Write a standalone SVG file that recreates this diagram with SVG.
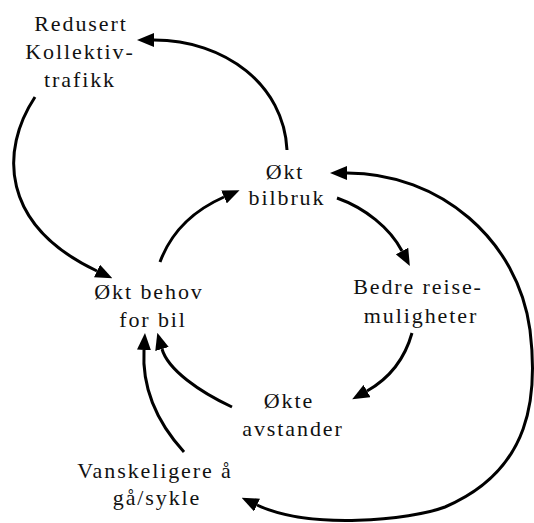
<svg xmlns="http://www.w3.org/2000/svg" width="534" height="523" viewBox="0 0 534 523">
<style>
  .lbl { font-family: 'Liberation Serif', 'Times New Roman', serif; font-size: 22px; letter-spacing: 1.9px; fill: #111; text-anchor: middle; }
  .edge { fill: none; stroke: #000; stroke-width: 3; }
</style>
<defs>
  <marker id="arr" viewBox="0 0 17 14" refX="0" refY="7" markerWidth="17" markerHeight="14" markerUnits="userSpaceOnUse" orient="auto-start-reverse">
    <path d="M0,0 L17,7 L0,14 z" fill="#000"/>
  </marker>
</defs>
<rect width="534" height="523" fill="#fff"/>
<g id="connectors">
  <path class="edge" d="M287 150 C284 85 225 40 154 40" marker-end="url(#arr)"/>
  <path class="edge" d="M35 97 C0 150 0 225 97 271" marker-end="url(#arr)"/>
  <path class="edge" d="M160 262 C170 235 190 212 224 197" marker-end="url(#arr)"/>
  <path class="edge" d="M337 198 C365 208 390 228 402 251" marker-end="url(#arr)"/>
  <path class="edge" d="M412 333 C405 358 390 378 367 391" marker-end="url(#arr)"/>
  <path class="edge" d="M232 407 C200 392 168 370 162 349" marker-end="url(#arr)"/>
  <path class="edge" d="M184 452 C155 420 142 385 144 350" marker-end="url(#arr)"/>
  <path class="edge" d="M347 173 C440 173 518 240 530 330 C538 395 532 470 445 507 C410 520 310 530 257 505" marker-start="url(#arr)" marker-end="url(#arr)"/>
</g>
<g font-family="Liberation Serif, serif">
<g id="node-redusert">
  <text class="lbl" x="81" y="31">Redusert</text>
  <text class="lbl" x="80" y="59">Kollektiv-</text>
  <text class="lbl" x="80" y="87">trafikk</text>
</g>
<g id="node-bilbruk">
  <text class="lbl" x="285" y="179">Økt</text>
  <text class="lbl" x="287" y="205">bilbruk</text>
</g>
<g id="node-reisemuligheter">
  <text class="lbl" x="418" y="294">Bedre reise-</text>
  <text class="lbl" x="421" y="323">muligheter</text>
</g>
<g id="node-behov">
  <text class="lbl" x="149" y="299">Økt behov</text>
  <text class="lbl" x="153" y="327">for bil</text>
</g>
<g id="node-avstander">
  <text class="lbl" x="289" y="408">Økte</text>
  <text class="lbl" x="293" y="436">avstander</text>
</g>
<g id="node-vanskeligere">
  <text class="lbl" x="155" y="478">Vanskeligere å</text>
  <text class="lbl" x="157" y="505">gå/sykle</text>
</g>
</g>
</svg>
